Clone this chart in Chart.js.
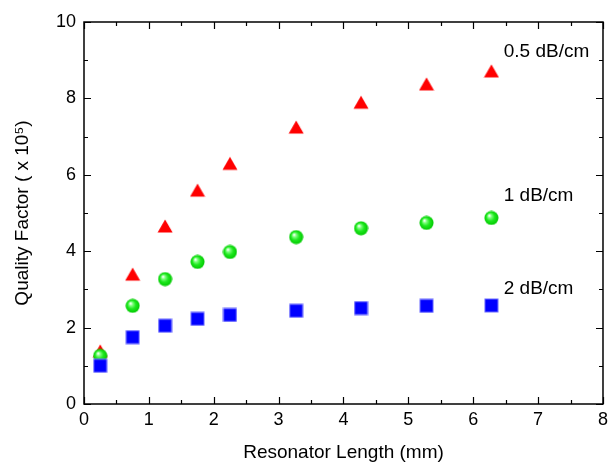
<!DOCTYPE html>
<html>
<head>
<meta charset="utf-8">
<script src="https://cdn.jsdelivr.net/npm/chart.js@4/dist/chart.umd.min.js"></script>
<style>
  html, body { margin: 0; padding: 0; background: #fff; }
  #wrap { width: 613px; height: 464px; }
</style>
</head>
<body>
<div id="wrap"><canvas id="c" width="613" height="464"></canvas></div>
<script>
// Resonator lengths (mm)
const lengths = [0.25, 0.75, 1.25, 1.75, 2.25, 3.27, 4.27, 5.28, 6.28];
// Quality factor (x 10^5) for each propagation loss
const q05 = [1.39, 3.40, 4.66, 5.60, 6.30, 7.25, 7.90, 8.38, 8.72];
const q1  = [1.26, 2.57, 3.27, 3.72, 3.98, 4.37, 4.60, 4.74, 4.87];
const q2  = [1.00, 1.75, 2.05, 2.23, 2.33, 2.44, 2.51, 2.57, 2.58];
// Series names shown next to each curve
const seriesNames = ['0.5 dB/cm', '1 dB/cm', '2 dB/cm'];
// Where each series name sits (x, y in data units)
const nameAnchors = [[6.47, 9.21], [6.47, 5.44], [6.47, 3.01]];

const FONT = '"Liberation Sans", Arial, sans-serif';

function marker(size, draw) {
  const c = document.createElement('canvas');
  c.width = size; c.height = size;
  draw(c.getContext('2d'), size);
  return c;
}
const triangle = marker(16, (g, s) => {
  g.fillStyle = '#ff0000';
  g.beginPath();
  g.moveTo(s / 2, 1.5);
  g.lineTo(s - 0.5, 14.5);
  g.lineTo(0.5, 14.5);
  g.closePath();
  g.fill();
});
const sphere = marker(15, (g, s) => {
  const grad = g.createRadialGradient(5.3, 5.0, 0.5, 7.5, 7.5, 7.2);
  grad.addColorStop(0, '#f4fff4');
  grad.addColorStop(0.22, '#7dff7d');
  grad.addColorStop(0.55, '#1ee81e');
  grad.addColorStop(1, '#00c800');
  g.fillStyle = grad;
  g.beginPath();
  g.arc(7.5, 7.5, 7, 0, Math.PI * 2);
  g.fill();
});
const square = marker(15, (g, s) => {
  g.fillStyle = '#6a6aff';
  g.fillRect(0.5, 0.5, 14, 14);
  g.fillStyle = '#0000ff';
  g.fillRect(1.5, 1.5, 12, 12);
});

function pts(ys) { return lengths.map((x, i) => ({ x, y: ys[i] })); }

// Inward ticks on all four sides plus the series names
const frameTicks = {
  id: 'frameTicks',
  afterDraw(chart) {
    const { ctx, chartArea: a, scales: { x, y } } = chart;
    ctx.save();
    ctx.strokeStyle = '#000';
    ctx.lineWidth = 1.5;
    ctx.strokeRect(a.left, a.top, a.right - a.left, a.bottom - a.top);
    ctx.lineWidth = 1.2;
    ctx.beginPath();
    for (let v = 0; v <= 8.0001; v += 0.5) {
      const px = Math.round(x.getPixelForValue(v)) + 0.5;
      const len = Number.isInteger(v) ? 7 : 4;
      ctx.moveTo(px, a.bottom); ctx.lineTo(px, a.bottom - len);
      ctx.moveTo(px, a.top); ctx.lineTo(px, a.top + len);
    }
    for (let v = 0; v <= 10.0001; v += 1) {
      const py = Math.round(y.getPixelForValue(v)) + 0.5;
      const len = v % 2 === 0 ? 7 : 4;
      ctx.moveTo(a.left, py); ctx.lineTo(a.left + len, py);
      ctx.moveTo(a.right, py); ctx.lineTo(a.right - len, py);
    }
    ctx.stroke();
    ctx.fillStyle = '#000';
    ctx.font = '19px ' + FONT;
    ctx.textAlign = 'left';
    ctx.textBaseline = 'middle';
    seriesNames.forEach((t, i) => {
      ctx.fillText(t, x.getPixelForValue(nameAnchors[i][0]), y.getPixelForValue(nameAnchors[i][1]));
    });
    ctx.restore();
  }
};

new Chart(document.getElementById('c'), {
  type: 'scatter',
  data: {
    datasets: [
      { label: seriesNames[2], data: pts(q2), pointStyle: square, pointRadius: 7 },
      { label: seriesNames[1], data: pts(q1), pointStyle: sphere, pointRadius: 7 },
      { label: seriesNames[0], data: pts(q05), pointStyle: triangle, pointRadius: 8 }
    ]
  },
  options: {
    responsive: false,
    animation: false,
    layout: { padding: { top: 22, right: 6, left: 0, bottom: 0 } },
    plugins: { legend: { display: false }, tooltip: { enabled: false } },
    scales: {
      x: {
        type: 'linear', min: 0, max: 8,
        ticks: { stepSize: 1, color: '#000', font: { family: FONT, size: 18 }, padding: 5, maxRotation: 0 },
        grid: { display: false, drawTicks: false },
        border: { display: false },
        title: { display: true, text: 'Resonator Length (mm)', color: '#000', font: { family: FONT, size: 19 }, padding: { top: 0, bottom: 0 } },
        afterFit(s) { s.height = 60; }
      },
      y: {
        type: 'linear', min: 0, max: 10,
        ticks: { stepSize: 2, color: '#000', font: { family: FONT, size: 18 }, padding: 8 },
        grid: { display: false, drawTicks: false },
        border: { display: false },
        title: { display: true, text: 'Quality Factor ( x 10\u2075)', color: '#000', font: { family: FONT, size: 19 }, padding: { top: 11, bottom: 0 } },
        afterFit(s) { s.width = 84; }
      }
    }
  },
  plugins: [frameTicks]
});
</script>
</body>
</html>
